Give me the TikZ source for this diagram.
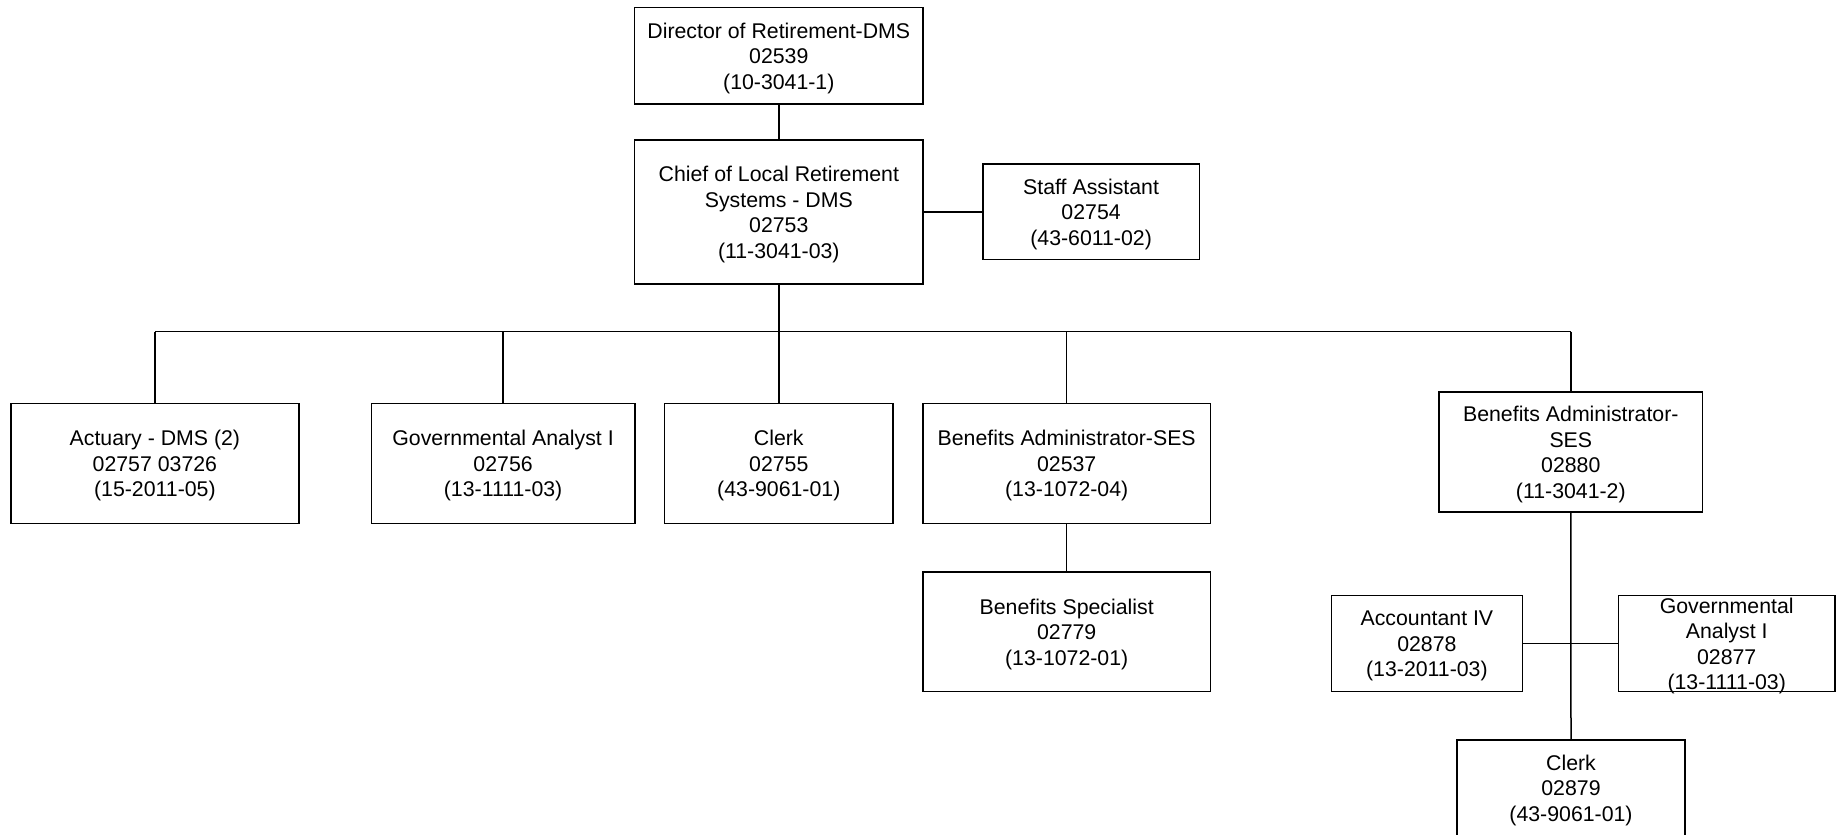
\documentclass[tikz,border=0pt]{standalone}
\usepackage{fontspec}
\setmainfont{Liberation Sans}
\begin{document}
\begin{tikzpicture}[x=1pt,y=-1pt,
  txt/.style={inner sep=0pt, align=center, yshift=-2.3pt,
    font=\fontsize{21.3}{25.5}\selectfont},
  box/.style={draw, line width=1.5pt, inner sep=0pt, label={[txt]center:#1}},
  sz/.style 2 args={minimum width=#1pt, minimum height=#2pt},
  link/.style={line width=1.5pt}]
\useasboundingbox (0,0) rectangle (1842,835);
\node[box={Director of Retirement-DMS\\02539\\(10-3041-1)}, sz={288.6}{96.7}] (dir) at (778.8,55.7) {};
\node[box={Chief of Local Retirement\\Systems - DMS\\02753\\(11-3041-03)}, sz={288.6}{144}] (chief) at (778.8,212) {};
\node[box={Staff Assistant\\02754\\(43-6011-02)}, sz={216.6}{95.3}] (staff) at (1091.1,211.7) {};
\coordinate (bus) at (0,331.7);
\node[box={Actuary - DMS (2)\\02757 03726\\(15-2011-05)}, sz={288.3}{120}] (act) at (154.9,463.5) {};
\node[box={Governmental Analyst I\\02756\\(13-1111-03)}, sz={263.4}{120}] (gov) at (503.1,463.5) {};
\node[box={Clerk\\02755\\(43-9061-01)}, sz={228.3}{120}] (clerk) at (778.8,463.5) {};
\node[box={Benefits Administrator-SES\\02537\\(13-1072-04)}, sz={287.8}{120}] (bas) at (1066.7,463.5) {};
\node[box={Benefits Administrator-\\SES\\02880\\(11-3041-2)}, sz={263.6}{120}] (ba2) at (1570.8,452) {};
\node[box={Benefits Specialist\\02779\\(13-1072-01)}, sz={287.8}{119.7}] (spec) at (1066.7,631.8) {};
\node[box={Accountant IV\\02878\\(13-2011-03)}, sz={191}{96}] (acc) at (1426.9,643.7) {};
\node[box={Governmental\\Analyst I\\02877\\(13-1111-03)}, sz={216.3}{96}] (gov2) at (1726.7,643.7) {};
\node[box={Clerk\\02879\\(43-9061-01)}, sz={228}{96}] (clerk2) at (1571,788) {};
\draw[link] (dir.south) -- (chief.north);
\draw[link] (chief.east) -- (chief.east -| staff.west);
\draw[link] (chief.south) -- (chief.south |- bus);
\draw[link] (act.north |- bus) -- (ba2.north |- bus);
\foreach \n in {act,gov,clerk,bas,ba2}{
  \draw[link] (\n.north |- bus) -- (\n.north);
}
\draw[link] (bas.south) -- (spec.north);
\draw[link] (ba2.south) -- (clerk2.north);
\draw[link] (acc.east) -- (acc.east -| gov2.west);
\end{tikzpicture}
\end{document}
